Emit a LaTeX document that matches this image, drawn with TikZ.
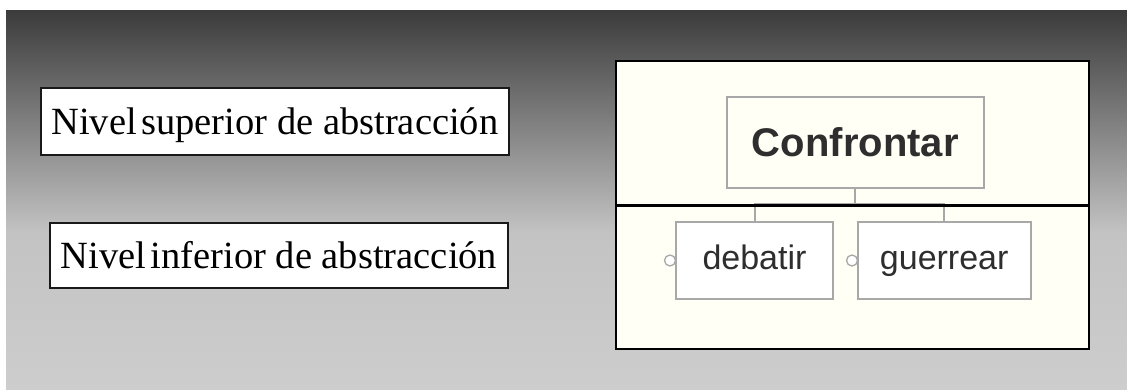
\documentclass[tikz,border=0pt]{standalone}
\usepackage{fontspec}
\setmainfont{Liberation Serif}
\newfontfamily\arialf{Liberation Sans}
\definecolor{bgtop}{HTML}{3C3C3C}
\definecolor{bgmid}{HTML}{C3C3C3}
\definecolor{bgbot}{HTML}{CDCDCD}
\definecolor{cream}{HTML}{FFFFF6}
\definecolor{boxgray}{HTML}{A8A8A8}
\definecolor{txtdark}{HTML}{2E2E2E}
\tikzset{
  levelbox/.style={draw=black!90, line width=1.6pt, fill=white, inner sep=0pt,
    font=\fontsize{38.5}{40}\selectfont, text=black, text height=26pt, text depth=0pt},
  topnode/.style={draw=boxgray, line width=2pt, fill=cream, inner sep=0pt,
    font=\arialf\bfseries\fontsize{40}{40}\selectfont, text=txtdark, text height=28.6pt, text depth=0pt},
  childnode/.style={draw=boxgray, line width=2pt, fill=white, inner sep=0pt,
    font=\arialf\fontsize{34}{34}\selectfont, text=txtdark, text height=17.7pt, text depth=0pt},
  conn/.style={draw=boxgray, line width=2pt},
  port/.style={circle, draw=boxgray, line width=1.3pt, fill=white, inner sep=0pt, minimum size=11pt},
  panel/.style={draw=black, line width=2.8pt, fill=cream}
}
\begin{document}
\begin{tikzpicture}[x=1pt,y=-1pt]
\useasboundingbox (0,0) rectangle (1127,390);
\fill[white] (0,0) rectangle (1127,390);
\shade[top color=bgtop, bottom color=bgmid] (6,11) rectangle (1127,233);
\shade[top color=bgmid, bottom color=bgbot] (6,233) rectangle (1127,390);

% left labels
\node[levelbox, minimum width=468pt, minimum height=67pt] (sup) at (274.9,121.5) {Nivel\hspace{4.5pt}superior de abstracción};
\node[levelbox, minimum width=458pt, minimum height=65pt] (inf) at (279,255.5) {Nivel\hspace{4.5pt}inferior de abstracción};

% right panel
\draw[panel] (616,61) rectangle (1089,349);

\node[topnode, minimum width=257pt, minimum height=91pt] (conf) at (855.3,142.2) {Confrontar};
\node[childnode, minimum width=157.6pt, minimum height=77.6pt] (deb) at (754.5,260.5) {debatir};
\node[childnode, minimum width=173pt, minimum height=77.6pt] (guer) at (944.2,260.5) {guerrear};

\draw[conn] (conf.south) -- ++(0,15.5) coordinate (j);
\draw[conn] (deb.north) |- (j) -| (guer.north);

\draw[black, line width=2.8pt] (616,205.5) coordinate (dl) -- (1089,205.5) coordinate (dr);

\node[port] (pd) at (670,260.5) {};
\node[port] (pg) at (852,260.5) {};
\end{tikzpicture}
\end{document}
